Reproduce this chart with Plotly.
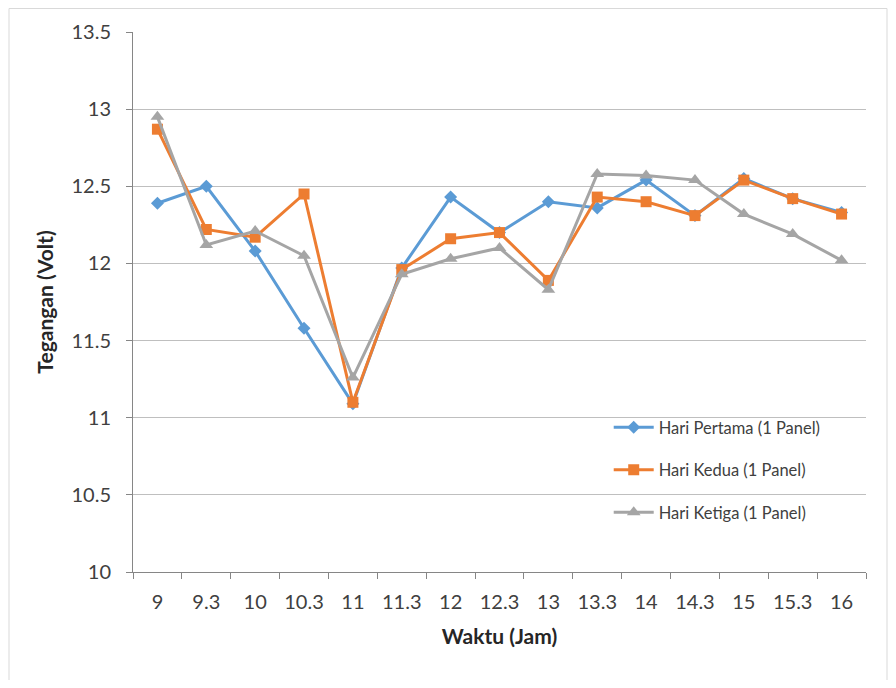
import plotly.graph_objects as go

waktu = ["9", "9.3", "10", "10.3", "11", "11.3", "12", "12.3", "13", "13.3", "14", "14.3", "15", "15.3", "16"]
hari_pertama = [12.39, 12.5, 12.08, 11.58, 11.09, 11.97, 12.43, 12.2, 12.4, 12.36, 12.54, 12.31, 12.55, 12.42, 12.33]
hari_kedua = [12.87, 12.22, 12.17, 12.45, 11.1, 11.96, 12.16, 12.2, 11.89, 12.43, 12.4, 12.31, 12.54, 12.42, 12.32]
hari_ketiga = [12.95, 12.12, 12.21, 12.05, 11.26, 11.93, 12.03, 12.1, 11.83, 12.58, 12.57, 12.54, 12.32, 12.19, 12.02]
y_ticks = [10, 10.5, 11, 11.5, 12, 12.5, 13, 13.5]

names = ["Hari Pertama (1 Panel)", "Hari Kedua (1 Panel)", "Hari Ketiga (1 Panel)"]
colors = ["#5b9bd5", "#ed7d31", "#a5a5a5"]
symbols = ["diamond", "square", "triangle-up"]
sizes = [10, 11, 12]

FONT = "Lato, 'Liberation Sans', sans-serif"

# page body has an 8px margin; compensate so the plot lands where it should
L, T, PW, PH = 125, 24, 733, 540
W, H = 880, 672

fig = go.Figure()
for i, ys in enumerate([hari_pertama, hari_kedua, hari_ketiga]):
    fig.add_trace(go.Scatter(
        x=waktu, y=ys, name=names[i], mode="lines+markers",
        line=dict(color=colors[i], width=3),
        marker=dict(symbol=symbols[i], size=sizes[i], color=colors[i]),
        legendgroup=f"g{i}",
    ))

fig.update_layout(
    width=W, height=H,
    margin=dict(l=L, r=W - L - PW, t=T, b=H - T - PH),
    paper_bgcolor="white", plot_bgcolor="white",
    font=dict(family=FONT, color="#404040"),
    showlegend=True,
    legend=dict(
        x=0.649, y=0.3, xanchor="left", yanchor="top",
        font=dict(size=16.5, color="#404040", family=FONT),
        bgcolor="rgba(0,0,0,0)", borderwidth=0,
        traceorder="grouped", tracegroupgap=18,
        itemwidth=40,
    ),
    xaxis=dict(
        type="category", range=[-0.5, len(waktu) - 0.5], showgrid=False,
        showline=True, linecolor="#868686", linewidth=1,
        ticks="outside", tickson="boundaries", ticklen=6, tickcolor="#868686",
        ticklabelstandoff=12,
        tickfont=dict(size=20, color="#404040"),
        title=dict(text="<b>Waktu (Jam)</b>", font=dict(size=21, color="#262626"), standoff=17),
    ),
    yaxis=dict(
        range=[10, 13.5], tickvals=y_ticks,
        ticktext=[f"{v:g}" for v in y_ticks],
        showgrid=True, gridcolor="#bfbfbf", gridwidth=1,
        showline=True, linecolor="#868686", linewidth=1,
        ticks="outside", ticklen=6, tickcolor="#868686",
        ticklabelstandoff=11,
        tickfont=dict(size=20, color="#404040"),
        zeroline=False,
        title=dict(text="<b>Tegangan (Volt)</b>", font=dict(size=21, color="#262626"), standoff=12),
    ),
)

# outer chart border
fig.add_shape(type="rect", xref="paper", yref="paper",
              x0=(1 - L) / PW, x1=(879 - L) / PW,
              y0=(T + PH - 700) / PH, y1=(T + PH - 0.5) / PH,
              line=dict(color="#d9d9d9", width=1), layer="below")

fig.write_html("out.html")
